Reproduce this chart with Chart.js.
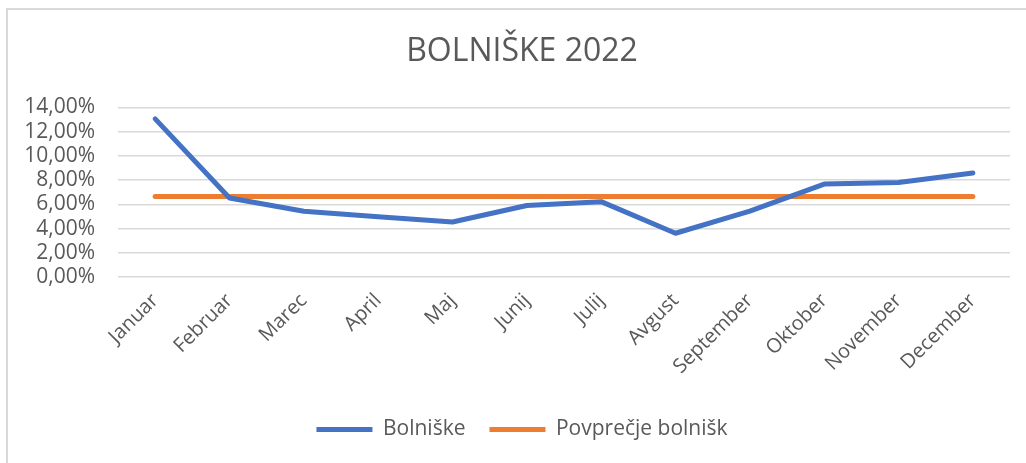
<!DOCTYPE html>
<html>
<head>
<meta charset="utf-8">
<script src="https://cdn.jsdelivr.net/npm/chart.js@4"></script>
<style>
  html, body { margin: 0; padding: 0; background: #fff; }
  #wrap { position: relative; width: 1026px; height: 463px; overflow: hidden; }
  #frame { position: absolute; left: 6px; top: 8px; width: 1100px; height: 500px;
           border-left: 2px solid #d9d9d9; border-top: 2px solid #d9d9d9; }
  canvas { position: absolute; left: 0; top: 0; }
</style>
</head>
<body>
<div id="wrap">
  <div id="frame"></div>
  <!-- platno je sirse od okna, da sta naslov in legenda centrirana kot v Excelu -->
  <canvas id="myChart" width="1044" height="463"></canvas>
</div>
<script>
const months = ['Januar', 'Februar', 'Marec', 'April', 'Maj', 'Junij', 'Julij', 'Avgust', 'September', 'Oktober', 'November', 'December']
// vrednosti v %
const bolniske = [13.05, 6.52, 5.43, 4.98, 4.54, 5.90, 6.22, 3.61, 5.43, 7.67, 7.80, 8.59]
const povprecje = [6.65, 6.65, 6.65, 6.65, 6.65, 6.65, 6.65, 6.65, 6.65, 6.65, 6.65, 6.65]
const yTicks = [0, 2, 4, 6, 8, 10, 12, 14]

const textColor = '#595959'
const fontName = "'Open Sans', 'Liberation Sans', sans-serif"

const ctx = document.querySelector('#myChart').getContext('2d')

const data = {
    labels: months,
    datasets: [{
        label: 'Bolniške',
        data: bolniske,
        borderColor: '#4472c4',
        backgroundColor: '#4472c4',
        borderWidth: 5,
        borderCapStyle: 'round',
        borderJoinStyle: 'round',
        pointRadius: 0,
        tension: 0
    },
    {
        label: 'Povprečje bolnišk',
        data: povprecje,
        borderColor: '#ed7d31',
        backgroundColor: '#ed7d31',
        borderWidth: 5,
        borderCapStyle: 'round',
        pointRadius: 0,
        tension: 0
    }]
}

const config = {
    type: 'line',
    data: data,
    options: {
        responsive: false,
        animation: false,
        layout: { padding: { left: 0, right: 0, top: 0, bottom: 13 } },
        scales: {
            x: {
                offset: true,
                grid: { display: false },
                border: { display: false },
                ticks: {
                    color: textColor,
                    font: { family: fontName, size: 20 },
                    minRotation: 45,
                    maxRotation: 45,
                    autoSkip: false,
                    padding: 4
                },
                afterFit: (scale) => { scale.height = 118 }
            },
            y: {
                min: 0,
                max: 14,
                afterBuildTicks: (scale) => { scale.ticks = yTicks.map(v => ({ value: v })) },
                grid: { color: '#d9d9d9', lineWidth: 1.5, drawTicks: false },
                border: { display: false },
                ticks: {
                    color: textColor,
                    font: { family: fontName, size: 21 },
                    padding: 23,
                    autoSkip: false,
                    callback: (value) => value.toFixed(2).replace('.', ',') + '%'
                },
                afterFit: (scale) => { scale.width = 118 }
            },
            // prazen desni rob, samo za prostor
            yRight: {
                position: 'right',
                grid: { display: false },
                border: { display: false },
                ticks: { display: false },
                afterFit: (scale) => { scale.width = 34 }
            }
        },
        plugins: {
            title: {
                display: true,
                text: 'BOLNIŠKE 2022',
                color: textColor,
                font: { family: fontName, size: 32, weight: 'normal' },
                padding: { top: 33, bottom: 36 }
            },
            legend: {
                position: 'bottom',
                labels: {
                    color: textColor,
                    font: { family: fontName, size: 21 },
                    usePointStyle: true,
                    pointStyle: 'line',
                    pointStyleWidth: 56,
                    boxHeight: 21,
                    padding: 24,
                    sort: (a, b) => a.datasetIndex - b.datasetIndex
                }
            },
            tooltip: { enabled: false }
        }
    }
}

const myChart = new Chart(ctx, config)
</script>
</body>
</html>
